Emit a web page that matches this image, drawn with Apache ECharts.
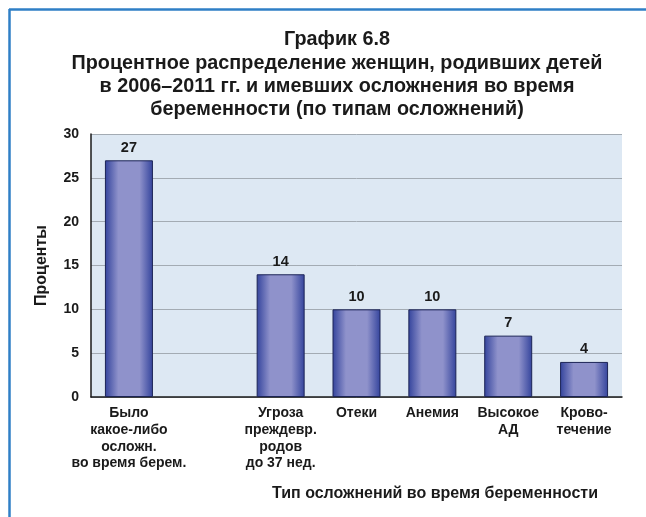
<!DOCTYPE html>
<html>
<head>
<meta charset="utf-8">
<script src="https://cdn.jsdelivr.net/npm/echarts@6/dist/echarts.min.js"></script>
<style>
  html, body { margin: 0; padding: 0; background: #ffffff; }
  #chart { width: 646px; height: 517px; }
</style>
</head>
<body>
<div id="chart"></div>
<script>
// Complication types (an empty slot separates the total from the individual types)
const categories = [
  'Было\nкакое-либо\nосложн.\nво время берем.',
  '',
  'Угроза\nпреждевр.\nродов\nдо 37 нед.',
  'Отеки',
  'Анемия',
  'Высокое\nАД',
  'Крово-\nтечение'
];
// Share of women, percent
const values = [27, null, 14, 10, 10, 7, 4];
const yTicks = [0, 5, 10, 15, 20, 25, 30];

const titleLines = [
  'График 6.8',
  'Процентное распределение женщин, родивших детей',
  'в 2006–2011 гг. и имевших осложнения во время',
  'беременности (по типам осложнений)'
];
const yAxisTitle = 'Проценты';
const xAxisTitle = 'Тип осложнений во время беременности';

const font = '"Liberation Sans", Arial, sans-serif';
const chart = echarts.init(document.getElementById('chart'), null, { renderer: 'canvas' });

const barFill = new echarts.graphic.LinearGradient(0, 0, 1, 0, [
  { offset: 0, color: '#33439c' },
  { offset: 0.28, color: '#8f92cb' },
  { offset: 0.72, color: '#8f92cb' },
  { offset: 1, color: '#33439c' }
]);

chart.setOption({
  animation: false,
  backgroundColor: '#ffffff',
  title: {
    text: titleLines.join('\n'),
    left: 332,
    top: 23,
    textAlign: 'center',
    textStyle: {
      fontFamily: font,
      fontWeight: 'bold',
      fontSize: 19.8,
      lineHeight: 23.4,
      color: '#1a1a1a'
    }
  },
  graphic: [
    // frame lines along the left and top edges
    { type: 'line', shape: { x1: 9.5, y1: 9, x2: 9.5, y2: 517 }, style: { stroke: '#2f7fc6', lineWidth: 2.5 } },
    { type: 'line', shape: { x1: 9, y1: 9.5, x2: 646, y2: 9.5 }, style: { stroke: '#2f7fc6', lineWidth: 2.5 } },
    {
      type: 'text', x: 435, y: 494,
      style: {
        text: xAxisTitle, align: 'center', verticalAlign: 'middle',
        fontFamily: font, fontWeight: 'bold', fontSize: 16, fill: '#1a1a1a'
      }
    }
  ],
  grid: {
    left: 91, right: 24, top: 134, bottom: 120,
    show: true, backgroundColor: '#dde8f3', borderWidth: 0
  },
  xAxis: {
    type: 'category',
    data: categories,
    axisLine: { lineStyle: { color: '#1a1a1a', width: 1.5 } },
    axisTick: { show: false },
    axisLabel: {
      interval: 0,
      margin: 8,
      fontFamily: font, fontWeight: 'bold', fontSize: 14,
      lineHeight: 16.7, color: '#1a1a1a', verticalAlign: 'top'
    }
  },
  yAxis: {
    type: 'value',
    min: yTicks[0], max: yTicks[yTicks.length - 1], interval: 5,
    name: yAxisTitle,
    nameLocation: 'middle',
    nameGap: 41,
    nameRotate: 90,
    nameTextStyle: { fontFamily: font, fontWeight: 'bold', fontSize: 16, color: '#1a1a1a' },
    axisLine: { show: true, lineStyle: { color: '#1a1a1a', width: 1.5 } },
    axisTick: { show: false },
    axisLabel: { margin: 12, fontFamily: font, fontWeight: 'bold', fontSize: 14, color: '#1a1a1a' },
    splitLine: { lineStyle: { color: '#a3abb3', width: 1 } }
  },
  series: [{
    type: 'bar',
    data: values,
    barWidth: 48,
    itemStyle: { color: barFill, borderColor: '#1c2456', borderWidth: 1 },
    label: {
      show: true, position: 'top', distance: 5,
      fontFamily: font, fontWeight: 'bold', fontSize: 14.5, color: '#1a1a1a'
    }
  }]
});
</script>
</body>
</html>
